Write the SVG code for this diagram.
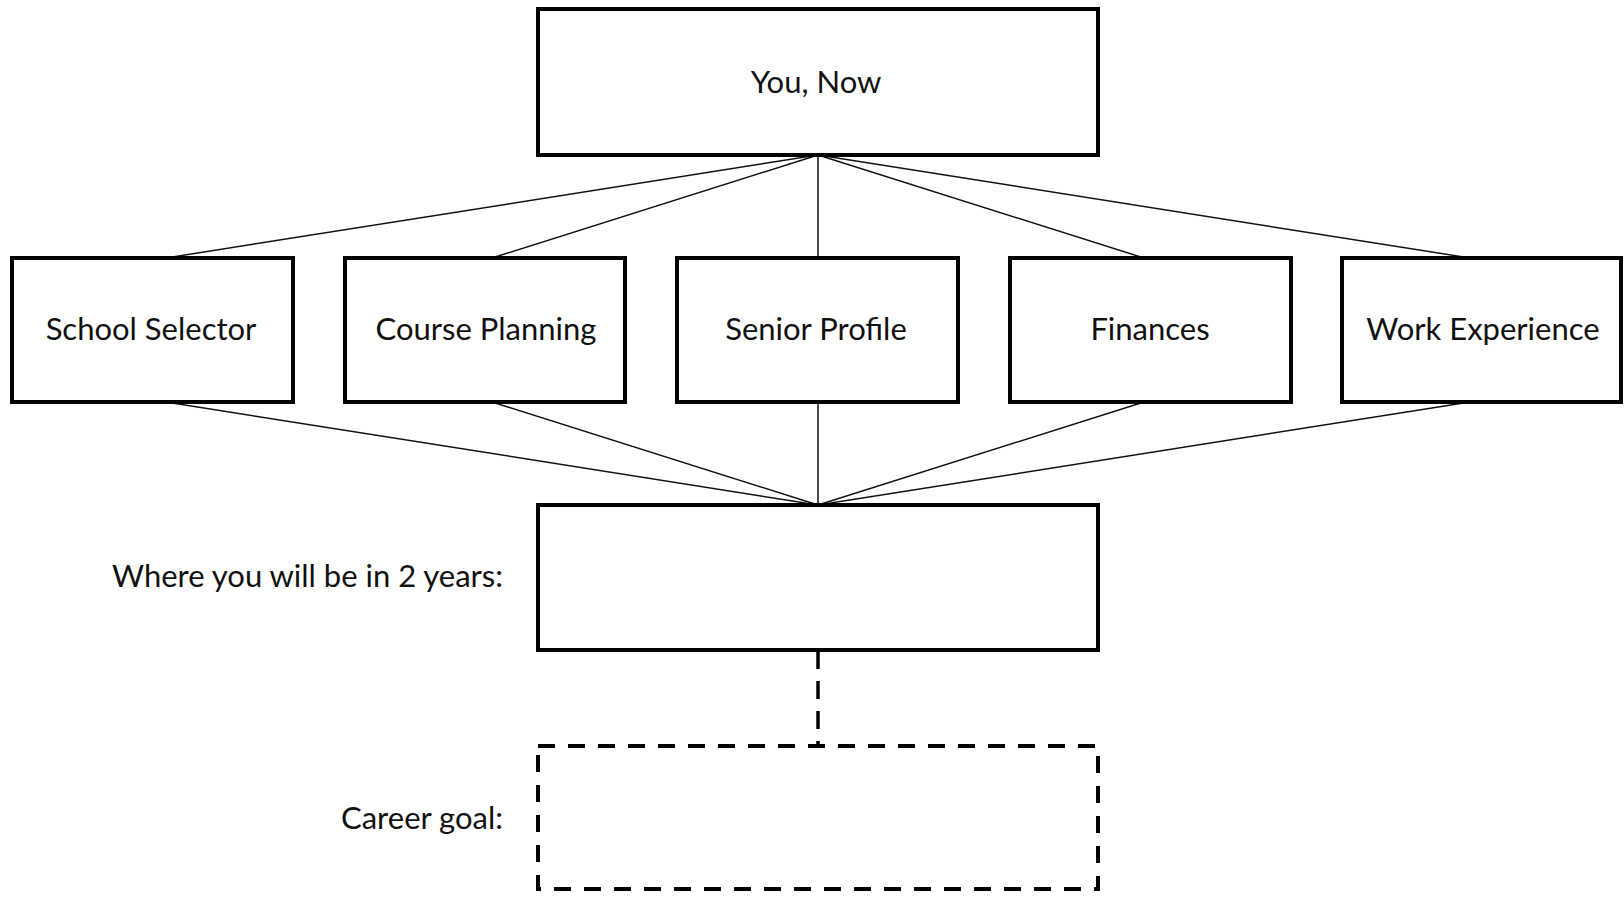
<svg xmlns="http://www.w3.org/2000/svg" width="1624" height="897" viewBox="0 0 1624 897">
<style>
.box{fill:#fff;stroke:#000;stroke-width:4}
.dbox{fill:#fff;stroke:#000;stroke-width:4;stroke-dasharray:17 13}
.ln{stroke:#111;stroke-width:1.5;fill:none}
.dln{stroke:#000;stroke-width:3.5;stroke-dasharray:18 12;fill:none}
.t{font-family:Lato,"Open Sans","Liberation Sans",sans-serif;font-size:31px;fill:#111}
.c{text-anchor:middle}
.r{text-anchor:end}
</style>
<rect width="1624" height="897" fill="#fff"/>
<g id="connectors">
<line class="ln" x1="818" y1="155" x2="166" y2="258"/>
<line class="ln" x1="818" y1="155" x2="492" y2="258"/>
<line class="ln" x1="818" y1="155" x2="818" y2="258"/>
<line class="ln" x1="818" y1="155" x2="1144" y2="258"/>
<line class="ln" x1="818" y1="155" x2="1470" y2="258"/>
<line class="ln" x1="166" y1="402" x2="818" y2="505"/>
<line class="ln" x1="492" y1="402" x2="818" y2="505"/>
<line class="ln" x1="818" y1="402" x2="818" y2="505"/>
<line class="ln" x1="1144" y1="402" x2="818" y2="505"/>
<line class="ln" x1="1470" y1="402" x2="818" y2="505"/>
<line class="dln" x1="818" y1="651" x2="818" y2="746"/>
</g>
<g id="you-now"><rect class="box" x="538" y="9" width="560" height="146"/><text class="t c" x="816" y="93">You, Now</text></g>
<g id="school-selector"><rect class="box" x="12" y="258" width="281" height="144"/><text class="t c" x="151" y="340">School Selector</text></g>
<g id="course-planning"><rect class="box" x="345" y="258" width="280" height="144"/><text class="t c" x="486" y="340">Course Planning</text></g>
<g id="senior-profile"><rect class="box" x="677" y="258" width="281" height="144"/><text class="t c" x="816" y="340">Senior Profile</text></g>
<g id="finances"><rect class="box" x="1010" y="258" width="281" height="144"/><text class="t c" x="1150" y="340">Finances</text></g>
<g id="work-experience"><rect class="box" x="1342" y="258" width="279" height="144"/><text class="t c" x="1483" y="340">Work Experience</text></g>
<g id="two-years"><rect class="box" x="538" y="505" width="560" height="145"/></g>
<g id="career-goal"><rect class="dbox" x="538" y="746" width="560" height="143"/></g>
<g id="labels">
<text class="t r" x="503" y="587">Where you will be in 2 years:</text>
<text class="t r" x="503" y="829">Career goal:</text>
</g>
</svg>
